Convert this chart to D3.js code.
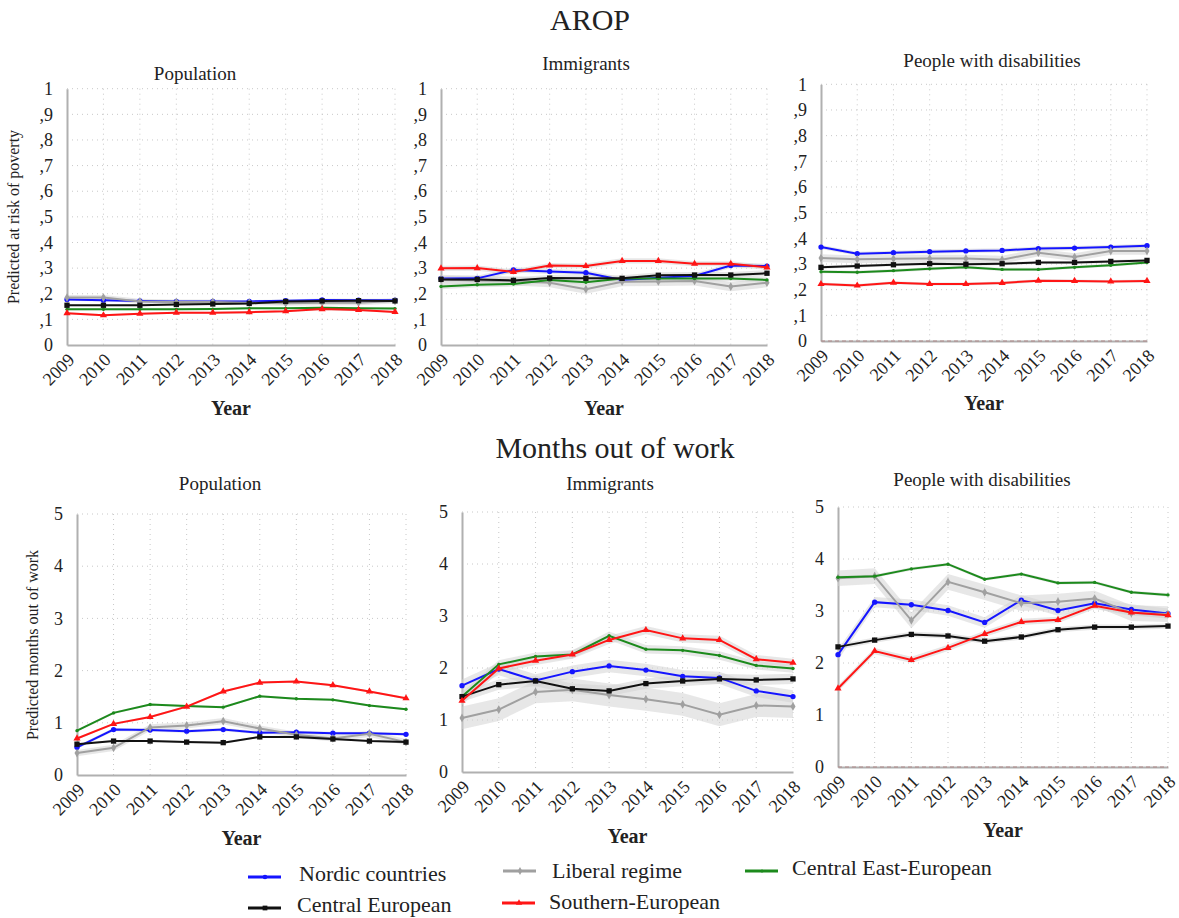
<!DOCTYPE html>
<html>
<head>
<meta charset="utf-8">
<script src="https://cdn.jsdelivr.net/npm/d3@7"></script>
<style>
  body { margin: 0; background: #fff; }
  text { font-family: "Liberation Serif", "Times New Roman", serif; fill: #222; }
</style>
</head>
<body>
<div id="chart-area"></div>
<script>
// years and groups
var years = [2009, 2010, 2011, 2012, 2013, 2014, 2015, 2016, 2017, 2018];
var groups = ["Nordic countries", "Liberal regime", "Central East-European", "Central European", "Southern-European"];
var colors = ["#1515ff", "#a0a0a0", "#1c8a1c", "#111111", "#ff1515"];
var markers = ["circle", "diamond", "dot", "square", "triangle"];

var arropTickLabels = ["0", ",1", ",2", ",3", ",4", ",5", ",6", ",7", ",8", ",9", "1"];
var monthsTickLabels = ["0", "1", "2", "3", "4", "5"];

// AROP - Population (order: Nordic, Liberal, CEE, CE, Southern)
var arropPopulation = [
  [0.178, 0.175, 0.172, 0.170, 0.170, 0.170, 0.173, 0.176, 0.175, 0.175],
  [0.185, 0.185, 0.170, 0.168, 0.168, 0.165, 0.163, 0.165, 0.165, 0.172],
  [0.139, 0.139, 0.139, 0.139, 0.140, 0.143, 0.143, 0.145, 0.143, 0.142],
  [0.155, 0.155, 0.155, 0.158, 0.160, 0.162, 0.170, 0.172, 0.173, 0.172],
  [0.124, 0.116, 0.122, 0.126, 0.126, 0.128, 0.132, 0.140, 0.137, 0.129]
];
var arropPopulationCI = [0.005, 0.01, 0.004, 0.004, 0.004];

// AROP - Immigrants
var arropImmigrants = [
  [0.259, 0.260, 0.293, 0.287, 0.282, 0.254, 0.262, 0.269, 0.310, 0.308],
  [0.256, 0.252, 0.250, 0.243, 0.218, 0.247, 0.248, 0.250, 0.228, 0.243],
  [0.228, 0.235, 0.238, 0.254, 0.245, 0.259, 0.259, 0.259, 0.259, 0.254],
  [0.256, 0.256, 0.252, 0.261, 0.260, 0.260, 0.272, 0.273, 0.273, 0.280],
  [0.299, 0.300, 0.285, 0.310, 0.308, 0.328, 0.328, 0.317, 0.317, 0.303]
];
var arropImmigrantsCI = [0.01, 0.018, 0.01, 0.012, 0.01];

// AROP - People with disabilities
var arropDisabilities = [
  [0.366, 0.340, 0.344, 0.348, 0.351, 0.353, 0.360, 0.362, 0.366, 0.371],
  [0.323, 0.318, 0.320, 0.321, 0.321, 0.317, 0.344, 0.327, 0.351, 0.351],
  [0.270, 0.268, 0.274, 0.281, 0.287, 0.279, 0.279, 0.287, 0.295, 0.306],
  [0.287, 0.292, 0.297, 0.301, 0.299, 0.301, 0.306, 0.306, 0.310, 0.314],
  [0.222, 0.216, 0.227, 0.222, 0.222, 0.226, 0.235, 0.234, 0.232, 0.234]
];
var arropDisabilitiesCI = [0.008, 0.015, 0.006, 0.006, 0.006];

// Months out of work - Population
var monthsPopulation = [
  [0.53, 0.87, 0.86, 0.84, 0.87, 0.81, 0.82, 0.80, 0.80, 0.78],
  [0.42, 0.52, 0.91, 0.95, 1.03, 0.89, 0.77, 0.70, 0.79, 0.63],
  [0.85, 1.19, 1.35, 1.32, 1.30, 1.51, 1.46, 1.44, 1.33, 1.26],
  [0.59, 0.65, 0.65, 0.63, 0.62, 0.73, 0.73, 0.69, 0.65, 0.63],
  [0.70, 0.98, 1.11, 1.31, 1.60, 1.77, 1.79, 1.72, 1.60, 1.47]
];
var monthsPopulationCI = [0.03, 0.06, 0.02, 0.02, 0.02];

// Months out of work - Immigrants
var monthsImmigrants = [
  [1.66, 1.98, 1.76, 1.93, 2.04, 1.96, 1.84, 1.81, 1.56, 1.45],
  [1.04, 1.20, 1.54, 1.58, 1.48, 1.40, 1.30, 1.10, 1.28, 1.26],
  [1.45, 2.07, 2.22, 2.26, 2.62, 2.36, 2.34, 2.24, 2.05, 1.99],
  [1.45, 1.68, 1.75, 1.60, 1.56, 1.70, 1.75, 1.79, 1.77, 1.79],
  [1.37, 1.99, 2.14, 2.26, 2.54, 2.73, 2.57, 2.54, 2.17, 2.10]
];
var monthsImmigrantsCI = [0.12, 0.22, 0.08, 0.1, 0.08];

// Months out of work - People with disabilities
var monthsDisabilities = [
  [2.16, 3.17, 3.12, 3.01, 2.78, 3.21, 3.01, 3.15, 3.03, 2.95],
  [3.63, 3.67, 2.82, 3.56, 3.36, 3.15, 3.18, 3.24, 2.96, 2.94],
  [3.65, 3.67, 3.81, 3.90, 3.61, 3.71, 3.54, 3.55, 3.36, 3.31],
  [2.31, 2.44, 2.55, 2.52, 2.42, 2.50, 2.64, 2.69, 2.69, 2.71],
  [1.51, 2.23, 2.06, 2.29, 2.56, 2.79, 2.83, 3.10, 2.97, 2.92]
];
var monthsDisabilitiesCI = [0.1, 0.15, 0.03, 0.05, 0.06];

var svg = d3.select("#chart-area")
  .append("svg")
    .attr("width", 1179)
    .attr("height", 918);

// section titles
svg.append("text").attr("x", 590).attr("y", 30)
  .attr("text-anchor", "middle").attr("font-size", "30px").text("AROP");
svg.append("text").attr("x", 615).attr("y", 458)
  .attr("text-anchor", "middle").attr("font-size", "30px").text("Months out of work");

var panels = [
  { title: "Population", data: arropPopulation, ci: arropPopulationCI, max: 1, ticks: arropTickLabels,
    x0: 67, x1: 395, yTop: 88.7, yBot: 345, titleX: 195, titleY: 80, yearY: 415,
    ylabel: "Predicted at risk of poverty", ylabelX: 19, ylabelY: 217, zero: false },
  { title: "Immigrants", data: arropImmigrants, ci: arropImmigrantsCI, max: 1, ticks: arropTickLabels,
    x0: 441, x1: 767, yTop: 88.7, yBot: 345, titleX: 586, titleY: 70, yearY: 415, zero: false },
  { title: "People with disabilities", data: arropDisabilities, ci: arropDisabilitiesCI, max: 1, ticks: arropTickLabels,
    x0: 821, x1: 1147, yTop: 84.3, yBot: 341, titleX: 992, titleY: 67, yearY: 410, zero: true },
  { title: "Population", data: monthsPopulation, ci: monthsPopulationCI, max: 5, ticks: monthsTickLabels,
    x0: 77, x1: 406, yTop: 514, yBot: 775, titleX: 220, titleY: 490, yearY: 845,
    ylabel: "Predicted months out of work", ylabelX: 38, ylabelY: 645, zero: false },
  { title: "Immigrants", data: monthsImmigrants, ci: monthsImmigrantsCI, max: 5, ticks: monthsTickLabels,
    x0: 462, x1: 793, yTop: 512, yBot: 772, titleX: 610, titleY: 490, yearY: 843, zero: false },
  { title: "People with disabilities", data: monthsDisabilities, ci: monthsDisabilitiesCI, max: 5, ticks: monthsTickLabels,
    x0: 838, x1: 1168, yTop: 507, yBot: 767, titleX: 982, titleY: 486, yearY: 837, zero: true }
];

function drawMarker(g, type, x, y, color, size) {
  var sym;
  if (type === "circle") sym = d3.symbol(d3.symbolCircle, 22 * size);
  else if (type === "diamond") sym = d3.symbol(d3.symbolDiamond, 22 * size);
  else if (type === "square") sym = d3.symbol(d3.symbolSquare, 28 * size);
  else if (type === "triangle") sym = d3.symbol(d3.symbolTriangle, 22 * size);
  else sym = d3.symbol(d3.symbolCircle, 9 * size);
  g.append("path")
    .attr("d", sym)
    .attr("transform", "translate(" + x + "," + y + ")")
    .attr("fill", color);
}

panels.forEach(function(p) {
  var x = d3.scalePoint().domain(years).range([p.x0, p.x1]);
  var y = d3.scaleLinear().domain([0, p.max]).range([p.yBot, p.yTop]);
  var g = svg.append("g");
  var tickVals = p.ticks.map(function(t, i) { return i * p.max / (p.ticks.length - 1); });

  // grid
  g.selectAll(".hgrid").data(tickVals.slice(1)).enter().append("line")
    .attr("x1", p.x0).attr("x2", p.x1)
    .attr("y1", function(d) { return y(d); }).attr("y2", function(d) { return y(d); })
    .attr("stroke", "#c8c8c8").attr("stroke-width", 1).attr("stroke-dasharray", "1,4");
  g.selectAll(".vgrid").data(years.slice(1)).enter().append("line")
    .attr("x1", function(d) { return x(d); }).attr("x2", function(d) { return x(d); })
    .attr("y1", p.yTop).attr("y2", p.yBot)
    .attr("stroke", "#c8c8c8").attr("stroke-width", 1).attr("stroke-dasharray", "1,4");

  // axes
  var yAxisCall = d3.axisLeft(y).tickValues(tickVals).tickSize(0).tickPadding(14)
    .tickFormat(function(d, i) { return p.ticks[i]; });
  var ya = g.append("g").attr("transform", "translate(" + p.x0 + ",0)").call(yAxisCall);
  ya.select(".domain").attr("stroke", "#b0b0b0").attr("stroke-width", 2);
  ya.selectAll("text").attr("font-size", "18px").attr("font-family", "Liberation Serif").attr("fill", "#222");

  var xAxisCall = d3.axisBottom(x).tickSize(0).tickPadding(0);
  var xa = g.append("g").attr("transform", "translate(0," + p.yBot + ")").call(xAxisCall);
  xa.select(".domain").attr("stroke", "#b0b0b0").attr("stroke-width", 2);
  xa.selectAll("text")
    .attr("font-size", "18px").attr("font-family", "Liberation Serif").attr("fill", "#222")
    .attr("y", 0).attr("x", 0).attr("dy", 0)
    .attr("text-anchor", "end")
    .attr("transform", "translate(8,16) rotate(-45)");

  if (p.zero) {
    g.append("line").attr("x1", p.x0).attr("x2", p.x1)
      .attr("y1", y(0)).attr("y2", y(0))
      .attr("stroke", "#b08888").attr("stroke-width", 1).attr("stroke-dasharray", "4,3");
  }

  // confidence bands
  var area = d3.area()
    .x(function(d) { return x(d.year); })
    .y0(function(d) { return y(d.lo); })
    .y1(function(d) { return y(d.hi); });
  p.data.forEach(function(vals, s) {
    var rows = years.map(function(yr, i) { return { year: yr, lo: vals[i] - p.ci[s], hi: vals[i] + p.ci[s] }; });
    g.append("path").datum(rows).attr("d", area)
      .attr("fill", "#d4d4d4").attr("fill-opacity", 0.55);
  });

  // lines
  var line = d3.line()
    .x(function(d) { return x(d.year); })
    .y(function(d) { return y(d.v); });
  p.data.forEach(function(vals, s) {
    var rows = years.map(function(yr, i) { return { year: yr, v: vals[i] }; });
    g.append("path").datum(rows).attr("d", line)
      .attr("fill", "none").attr("stroke", colors[s]).attr("stroke-width", 2);
    rows.forEach(function(r) { drawMarker(g, markers[s], x(r.year), y(r.v), colors[s], 1); });
  });

  // labels
  g.append("text").attr("x", p.titleX).attr("y", p.titleY)
    .attr("text-anchor", "middle").attr("font-size", "19px").text(p.title);
  g.append("text").attr("x", (p.x0 + p.x1) / 2).attr("y", p.yearY)
    .attr("text-anchor", "middle").attr("font-size", "20px").attr("font-weight", "bold").text("Year");
  if (p.ylabel) {
    g.append("text")
      .attr("transform", "translate(" + p.ylabelX + "," + p.ylabelY + ") rotate(-90)")
      .attr("text-anchor", "middle").attr("font-size", "16px").text(p.ylabel);
  }
});

// legend
var legendPos = [
  { x: 248, y: 877, tx: 299, ty: 881 },
  { x: 503, y: 871, tx: 552, ty: 878 },
  { x: 745, y: 871, tx: 792, ty: 875 },
  { x: 248, y: 908, tx: 297, ty: 912 },
  { x: 502, y: 903, tx: 549, ty: 909 }
];
groups.forEach(function(name, s) {
  var lp = legendPos[s];
  var lg = svg.append("g");
  lg.append("line").attr("x1", lp.x).attr("x2", lp.x + 33).attr("y1", lp.y).attr("y2", lp.y)
    .attr("stroke", colors[s]).attr("stroke-width", 3);
  drawMarker(lg, markers[s], lp.x + 17, lp.y, colors[s], 0.8);
  lg.append("text").attr("x", lp.tx).attr("y", lp.ty)
    .attr("font-size", "22px").text(name);
});
</script>
</body>
</html>
